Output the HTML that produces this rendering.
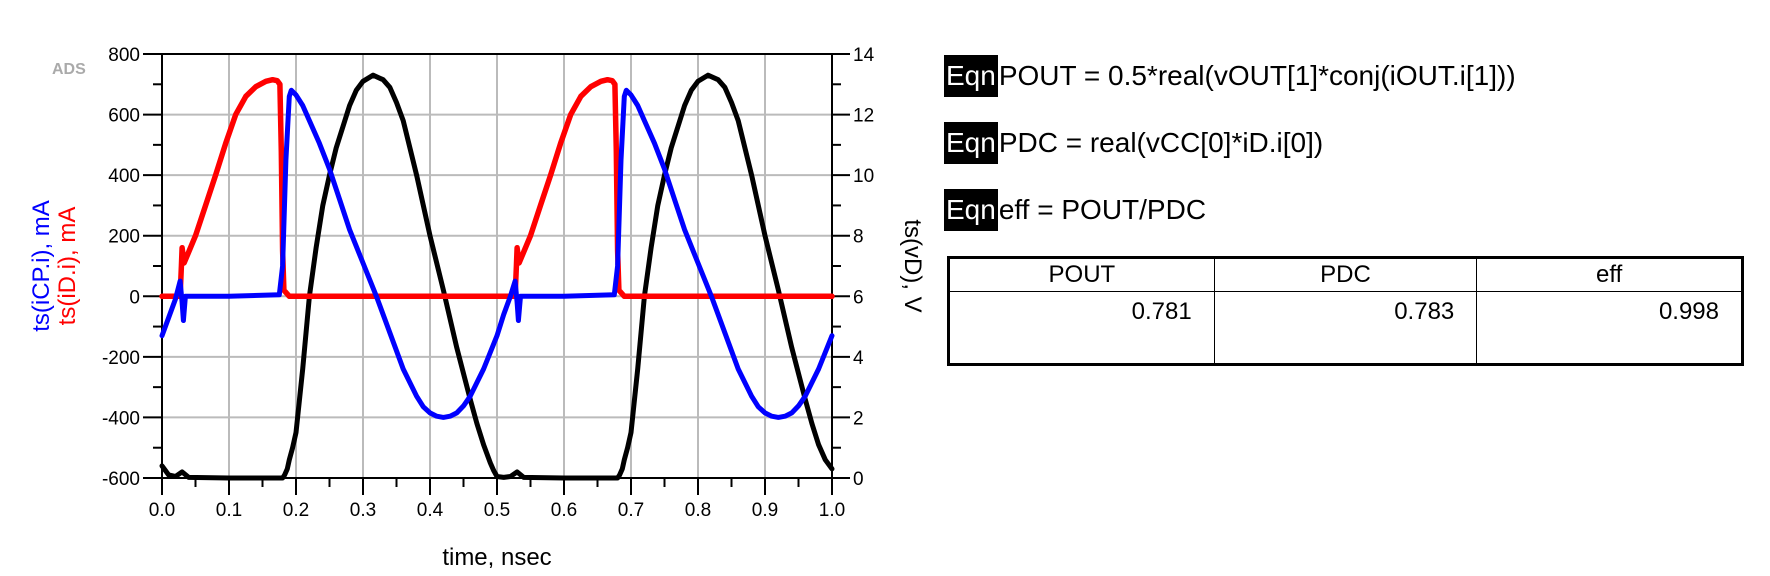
<!DOCTYPE html>
<html><head><meta charset="utf-8"><style>
body{margin:0;background:#fff;width:1770px;height:576px;overflow:hidden;font-family:"Liberation Sans",sans-serif}
svg{position:absolute;left:0;top:0}
.eq{position:absolute;left:944px;font-size:28px;height:42px;line-height:42px;white-space:nowrap;color:#000}
.eq b{display:inline-block;background:#000;color:#fff;font-weight:normal;padding:0 2px;margin-right:1px}
table{position:absolute;left:947px;top:256px;width:797px;height:110px;border-collapse:collapse;border:3px solid #000;font-size:24px}
td{border:1px solid #000;padding:0}
tr.h td{text-align:center;height:32px}
tr.v td{text-align:right;vertical-align:top;padding:6px 22px 0 0}
</style></head><body>
<svg width="1770" height="576">
<g id="grid"></g><g id="axes"></g><g id="series"></g>
<text x="52" y="74" font-size="16" font-weight="bold" fill="#aaa">ADS</text>
<text transform="translate(49,266) rotate(-90)" text-anchor="middle" font-size="24" fill="#0000ff">ts(iCP.i), mA</text>
<text transform="translate(75,266) rotate(-90)" text-anchor="middle" font-size="24" fill="#ff0000">ts(iD.i), mA</text>
<text transform="translate(905,266) rotate(90)" text-anchor="middle" font-size="24" fill="#000">ts(vD), V</text>
<text x="497" y="565" text-anchor="middle" font-size="24" fill="#000">time, nsec</text>
</svg>
<div class="eq" style="top:55px"><b>Eqn</b>POUT = 0.5*real(vOUT[1]*conj(iOUT.i[1]))</div>
<div class="eq" style="top:122px"><b>Eqn</b>PDC = real(vCC[0]*iD.i[0])</div>
<div class="eq" style="top:189px"><b>Eqn</b>eff = POUT/PDC</div>
<table>
<tr class="h"><td>POUT</td><td>PDC</td><td>eff</td></tr>
<tr class="v"><td>0.781</td><td>0.783</td><td>0.998</td></tr>
</table>
<script>
const xTicks=[0,0.1,0.2,0.3,0.4,0.5,0.6,0.7,0.8,0.9,1.0];
const xTickLabels=["0.0","0.1","0.2","0.3","0.4","0.5","0.6","0.7","0.8","0.9","1.0"];
const yTicks=[-600,-400,-200,0,200,400,600,800];
const y2Ticks=[0,2,4,6,8,10,12,14];
const tICP=[0,0.01,0.02,0.027,0.03,0.032,0.035,0.1,0.175,0.18,0.185,0.19,0.193,0.2,0.21,0.22,0.235,0.25,0.265,0.28,0.3,0.32,0.34,0.36,0.38,0.39,0.4,0.41,0.42,0.43,0.44,0.45,0.46,0.48,0.5,0.51,0.52,0.527,0.53,0.532,0.535,0.6,0.675,0.68,0.685,0.69,0.693,0.7,0.71,0.72,0.735,0.75,0.765,0.78,0.8,0.82,0.84,0.86,0.88,0.89,0.9,0.91,0.92,0.93,0.94,0.95,0.96,0.98,1.0];
const vICP=[-130,-70,-10,50,-20,-80,0,0,5,100,450,660,680,665,630,580,505,420,320,220,110,0,-120,-240,-330,-365,-385,-396,-400,-396,-385,-362,-330,-240,-130,-60,0,50,-20,-80,0,0,5,100,450,660,680,665,630,580,505,420,320,220,110,0,-120,-240,-330,-365,-385,-396,-400,-396,-385,-362,-330,-240,-130];
const tID=[0,0.027,0.029,0.03,0.033,0.05,0.065,0.08,0.095,0.11,0.125,0.14,0.155,0.165,0.172,0.176,0.178,0.18,0.182,0.19,0.5,0.527,0.529,0.53,0.533,0.55,0.565,0.58,0.595,0.61,0.625,0.64,0.655,0.665,0.672,0.676,0.678,0.68,0.682,0.69,1.0];
const vID=[0,0,100,160,110,200,300,400,505,600,660,692,710,715,712,700,480,150,20,0,0,0,100,160,110,200,300,400,505,600,660,692,710,715,712,700,480,150,20,0,0];
const tVD=[0,0.01,0.02,0.03,0.04,0.1,0.18,0.183,0.187,0.19,0.195,0.2,0.21,0.22,0.23,0.24,0.25,0.26,0.27,0.28,0.29,0.3,0.315,0.33,0.34,0.35,0.36,0.38,0.4,0.42,0.44,0.46,0.47,0.48,0.49,0.495,0.5,0.51,0.52,0.53,0.54,0.6,0.68,0.683,0.687,0.69,0.695,0.7,0.71,0.72,0.73,0.74,0.75,0.76,0.77,0.78,0.79,0.8,0.815,0.83,0.84,0.85,0.86,0.88,0.9,0.92,0.94,0.96,0.97,0.98,0.99,1.0];
const vVD=[0.4,0.1,0.05,0.2,0.02,0,0,0.1,0.3,0.6,1.0,1.5,3.6,6,7.6,9,10,10.9,11.6,12.3,12.8,13.1,13.3,13.15,12.9,12.4,11.8,10,8,6.2,4.3,2.6,1.8,1.1,0.5,0.25,0.05,0.02,0.05,0.2,0.02,0,0,0.1,0.3,0.6,1.0,1.5,3.6,6,7.6,9,10,10.9,11.6,12.3,12.8,13.1,13.3,13.15,12.9,12.4,11.8,10,8,6.2,4.3,2.6,1.8,1.1,0.6,0.3];
const L=162,R=832,T=54,B=478;
const X=t=>L+(t-0)/(1-0)*(R-L);
const Y=v=>B-(v+600)/1400*(B-T);
const Y2=v=>B-v/14*(B-T);
const NS="http://www.w3.org/2000/svg";
function mk(tag,a,p){const e=document.createElementNS(NS,tag);for(const k in a)e.setAttribute(k,a[k]);document.getElementById(p).appendChild(e);return e;}
xTicks.forEach((t,i)=>{
 if(i>0&&i<xTicks.length-1){const g=mk('line',{x1:X(t),x2:X(t),y1:T,y2:B,stroke:'#bbb','stroke-width':2},'grid');
 
 }
 const k=mk('line',{x1:X(t),x2:X(t),y1:B,y2:B+17,stroke:'#000','stroke-width':2},'axes');
 
 
 if(i<xTicks.length-1){const m=mk('line',{x1:X(t+0.05),x2:X(t+0.05),y1:B,y2:B+9,stroke:'#000','stroke-width':2},'axes');
 
 }
 const tx=mk('text',{x:X(t),y:516,'text-anchor':'middle','font-size':19},'axes');tx.textContent=xTickLabels[i];
 
 
});
yTicks.forEach((v,i)=>{
 if(i>0&&i<yTicks.length-1){const g=mk('line',{x1:L,x2:R,y1:Y(v),y2:Y(v),stroke:'#bbb','stroke-width':2},'grid');
 
 }
 const k=mk('line',{x1:143,x2:L,y1:Y(v),y2:Y(v),stroke:'#000','stroke-width':2},'axes');
 
 
 if(i<yTicks.length-1){const m=mk('line',{x1:153,x2:L,y1:Y(v+100),y2:Y(v+100),stroke:'#000','stroke-width':2},'axes');
 
 }
 const tx=mk('text',{x:140,y:Y(v)+7,'text-anchor':'end','font-size':19},'axes');tx.textContent=v;
 
 
});
y2Ticks.forEach((v,i)=>{
 const k=mk('line',{x1:R,x2:850,y1:Y2(v),y2:Y2(v),stroke:'#000','stroke-width':2},'axes');
 
 
 if(i<y2Ticks.length-1){const m=mk('line',{x1:R,x2:841,y1:Y2(v+1),y2:Y2(v+1),stroke:'#000','stroke-width':2},'axes');
 
 }
 const tx=mk('text',{x:853,y:Y2(v)+7,'font-size':19},'axes');tx.textContent=v;
 
 
});
const fr=mk('rect',{x:L,y:T,width:R-L,height:B-T,fill:'none',stroke:'#000','stroke-width':2},'axes');


function line(ts,vs,yf,col,w,name){
 const d=ts.map((t,i)=>(i?'L':'M')+X(t).toFixed(1)+','+yf(vs[i]).toFixed(1)).join('');
 const p=mk('path',{d:d,fill:'none',stroke:col,'stroke-width':w,'stroke-linejoin':'round','stroke-linecap':'round'},'series');
 
 
}
line(tVD,vVD,Y2,'#000',5,'series-vd');
line(tID,vID,Y,'#ff0000',5.5,'series-id');
line(tICP,vICP,Y,'#0000ff',5,'series-icp');
</script>
</body></html>
